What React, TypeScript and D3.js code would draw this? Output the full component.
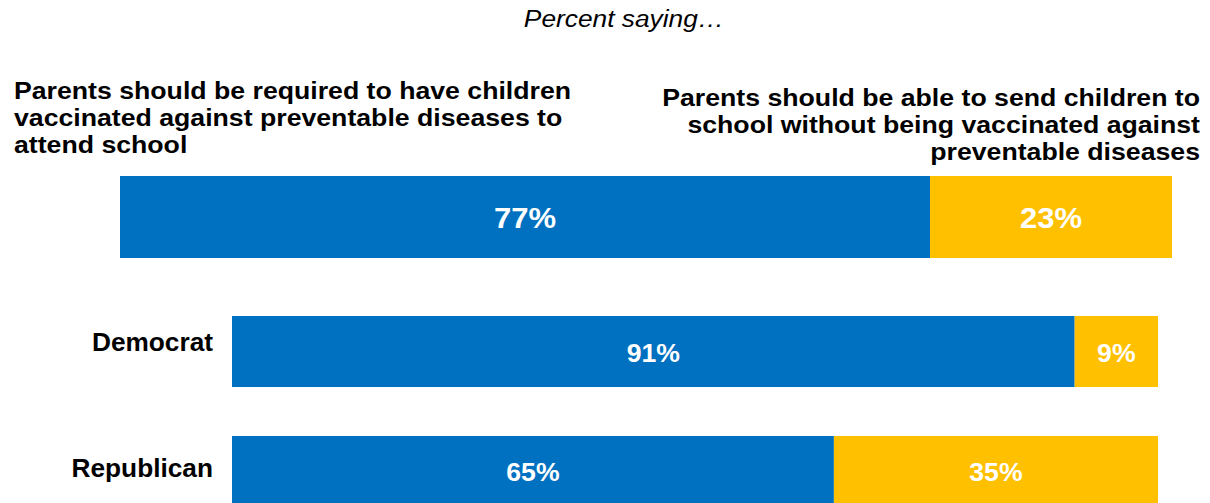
import React from "react";
import * as d3 from "d3";

const rowLabels = ["", "Democrat", "Republican"];
const requiredPct = [77, 91, 65];
const notRequiredPct = [23, 9, 35];
const title = "Percent saying…";
const leftHeader = [
  "Parents should be required to have children",
  "vaccinated against preventable diseases to",
  "attend school",
];
const rightHeader = [
  "Parents should be able to send children to",
  "school without being vaccinated against",
  "preventable diseases",
];

const BLUE = "#0070C0";
const YELLOW = "#FFC000";
const FONT = "'Liberation Sans', Arial, sans-serif";

function SText({
  x,
  y,
  sx,
  children,
  ...rest
}: {
  x: number;
  y: number;
  sx: number;
  children: React.ReactNode;
  [k: string]: any;
}) {
  return (
    <text transform={`translate(${x},${y}) scale(${sx},1)`} {...rest}>
      {children}
    </text>
  );
}

export default function App() {
  const W = 1210;
  const H = 503;
  // total row uses a wider scale than the party rows
  const xTotal = d3.scaleLinear().domain([0, 100]).range([120, 1172]);
  const xParty = d3.scaleLinear().domain([0, 100]).range([232, 1158]);
  const yParty = d3
    .scaleBand<string>()
    .domain(rowLabels.slice(1))
    .range([316, 507])
    .paddingInner(0.408)
    .paddingOuter(0);
  const rows = rowLabels.map((lab, i) => {
    const x = i === 0 ? xTotal : xParty;
    const y = i === 0 ? 176 : (yParty(lab) as number);
    const h = i === 0 ? 82 : yParty.bandwidth();
    return { lab, i, x, y, h };
  });
  return (
    <svg
      width={W}
      height={H}
      style={{ position: "absolute", left: 0, top: 0, background: "#fff" }}
      fontFamily={FONT}
    >
      <SText x={624} y={27} sx={1.12} textAnchor="middle" fontStyle="italic" fontSize={23.5} fill="#000">
        {title}
      </SText>
      {leftHeader.map((t, k) => (
        <SText key={"l" + k} x={14} y={99 + k * 27.2} sx={1.16} fontWeight="bold" fontSize={23} fill="#000">
          {t}
        </SText>
      ))}
      {rightHeader.map((t, k) => (
        <SText
          key={"r" + k}
          x={1200}
          y={106 + k * 27.2}
          sx={1.16}
          textAnchor="end"
          fontWeight="bold"
          fontSize={23}
          fill="#000"
        >
          {t}
        </SText>
      ))}
      {rows.map(({ lab, i, x, y, h }) => {
        const r = requiredPct[i];
        const n = notRequiredPct[i];
        const fs = i === 0 ? 29 : 25.5;
        const sx = i === 0 ? 1.07 : 1.045;
        const base = i === 0 ? y + 52.3 : y + 45.5;
        return (
          <g key={i}>
            <rect x={x(0)} y={y} width={x(r) - x(0)} height={h} fill={BLUE} />
            <rect x={x(r)} y={y} width={x(r + n) - x(r)} height={h} fill={YELLOW} />
            <SText
              x={(x(0) + x(r)) / 2}
              y={base}
              sx={sx}
              textAnchor="middle"
              fontWeight="bold"
              fontSize={fs}
              fill="#fff"
            >
              {r}%
            </SText>
            <SText
              x={(x(r) + x(r + n)) / 2}
              y={base}
              sx={sx}
              textAnchor="middle"
              fontWeight="bold"
              fontSize={fs}
              fill="#fff"
            >
              {n}%
            </SText>
            {lab && (
              <SText
                x={213}
                y={y + (i === 1 ? 35 : 41)}
                sx={1.05}
                textAnchor="end"
                fontWeight="bold"
                fontSize={25}
                fill="#000"
              >
                {lab}
              </SText>
            )}
          </g>
        );
      })}
    </svg>
  );
}
